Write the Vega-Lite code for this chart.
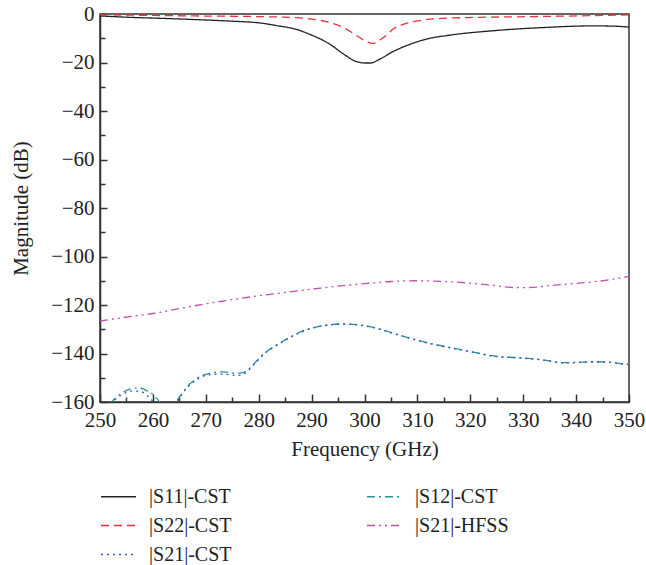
{
  "$schema": "https://vega.github.io/schema/vega-lite/v6.json",
  "width": 529,
  "height": 388,
  "autosize": {"type": "none"},
  "padding": {"left": 100, "top": 14, "right": 17, "bottom": 163},
  "background": "white",
  "config": {
    "font": "Liberation Serif",
    "view": {"stroke": "#333", "strokeWidth": 1.5},
    "axis": {
      "labelFont": "Liberation Serif",
      "titleFont": "Liberation Serif",
      "labelFontSize": 21,
      "titleFontSize": 21,
      "titleFontWeight": "normal",
      "labelColor": "#222",
      "titleColor": "#222",
      "domainColor": "#333",
      "domainWidth": 1.5,
      "tickColor": "#333",
      "tickWidth": 1.5,
      "grid": false
    },
    "legend": {
      "labelFont": "Liberation Serif",
      "labelFontSize": 20,
      "labelColor": "#222"
    }
  },
  "data": {
    "values": [
      {"s": "|S11|-CST", "f": 250, "m": -0.8},
      {"s": "|S11|-CST", "f": 256, "m": -1.4},
      {"s": "|S11|-CST", "f": 261.7, "m": -1.8},
      {"s": "|S11|-CST", "f": 268, "m": -2.3},
      {"s": "|S11|-CST", "f": 274.3, "m": -2.9},
      {"s": "|S11|-CST", "f": 280.6, "m": -3.8},
      {"s": "|S11|-CST", "f": 283.7, "m": -4.9},
      {"s": "|S11|-CST", "f": 286.9, "m": -6.2},
      {"s": "|S11|-CST", "f": 290, "m": -8.7},
      {"s": "|S11|-CST", "f": 293.2, "m": -12.1},
      {"s": "|S11|-CST", "f": 296.3, "m": -16.9},
      {"s": "|S11|-CST", "f": 298.2, "m": -19.4},
      {"s": "|S11|-CST", "f": 300.1, "m": -20.2},
      {"s": "|S11|-CST", "f": 301.2, "m": -20.2},
      {"s": "|S11|-CST", "f": 302.9, "m": -18.6},
      {"s": "|S11|-CST", "f": 305.4, "m": -15.5},
      {"s": "|S11|-CST", "f": 308.6, "m": -12.5},
      {"s": "|S11|-CST", "f": 311.8, "m": -10.3},
      {"s": "|S11|-CST", "f": 316.2, "m": -8.7},
      {"s": "|S11|-CST", "f": 324.3, "m": -6.9},
      {"s": "|S11|-CST", "f": 333.7, "m": -5.6},
      {"s": "|S11|-CST", "f": 343.2, "m": -4.9},
      {"s": "|S11|-CST", "f": 347, "m": -5.0},
      {"s": "|S11|-CST", "f": 350, "m": -5.4},

      {"s": "|S22|-CST", "f": 250, "m": -0.3},
      {"s": "|S22|-CST", "f": 268, "m": -0.8},
      {"s": "|S22|-CST", "f": 280.6, "m": -1.1},
      {"s": "|S22|-CST", "f": 286.9, "m": -1.5},
      {"s": "|S22|-CST", "f": 290, "m": -2.1},
      {"s": "|S22|-CST", "f": 293.2, "m": -3.4},
      {"s": "|S22|-CST", "f": 296.3, "m": -5.9},
      {"s": "|S22|-CST", "f": 298.8, "m": -9.3},
      {"s": "|S22|-CST", "f": 300.4, "m": -11.4},
      {"s": "|S22|-CST", "f": 301.7, "m": -12.1},
      {"s": "|S22|-CST", "f": 302.9, "m": -10.7},
      {"s": "|S22|-CST", "f": 304.2, "m": -8.7},
      {"s": "|S22|-CST", "f": 305.4, "m": -6.2},
      {"s": "|S22|-CST", "f": 307.3, "m": -4.3},
      {"s": "|S22|-CST", "f": 310.5, "m": -2.7},
      {"s": "|S22|-CST", "f": 314.9, "m": -1.8},
      {"s": "|S22|-CST", "f": 321.2, "m": -1.4},
      {"s": "|S22|-CST", "f": 330.7, "m": -1.1},
      {"s": "|S22|-CST", "f": 340.1, "m": -0.8},
      {"s": "|S22|-CST", "f": 350, "m": -0.4},

      {"s": "|S21|-HFSS", "f": 250, "m": -126.6},
      {"s": "|S21|-HFSS", "f": 255, "m": -125.0},
      {"s": "|S21|-HFSS", "f": 260, "m": -123.5},
      {"s": "|S21|-HFSS", "f": 265, "m": -121.5},
      {"s": "|S21|-HFSS", "f": 270, "m": -119.5},
      {"s": "|S21|-HFSS", "f": 275, "m": -117.8},
      {"s": "|S21|-HFSS", "f": 280, "m": -116.2},
      {"s": "|S21|-HFSS", "f": 285, "m": -114.8},
      {"s": "|S21|-HFSS", "f": 290, "m": -113.5},
      {"s": "|S21|-HFSS", "f": 295, "m": -112.2},
      {"s": "|S21|-HFSS", "f": 300, "m": -111.2},
      {"s": "|S21|-HFSS", "f": 305, "m": -110.3},
      {"s": "|S21|-HFSS", "f": 310, "m": -110.0},
      {"s": "|S21|-HFSS", "f": 315, "m": -110.3},
      {"s": "|S21|-HFSS", "f": 320, "m": -111.0},
      {"s": "|S21|-HFSS", "f": 325, "m": -112.1},
      {"s": "|S21|-HFSS", "f": 328.5, "m": -112.8},
      {"s": "|S21|-HFSS", "f": 331, "m": -112.8},
      {"s": "|S21|-HFSS", "f": 335, "m": -112.0},
      {"s": "|S21|-HFSS", "f": 340, "m": -111.1},
      {"s": "|S21|-HFSS", "f": 345, "m": -110.0},
      {"s": "|S21|-HFSS", "f": 350, "m": -108.2},

      {"s": "|S12|-CST", "f": 250, "m": -167},
      {"s": "|S12|-CST", "f": 252.2, "m": -160},
      {"s": "|S12|-CST", "f": 254, "m": -156.5},
      {"s": "|S12|-CST", "f": 256, "m": -154.5},
      {"s": "|S12|-CST", "f": 257.5, "m": -154.2},
      {"s": "|S12|-CST", "f": 259, "m": -155.5},
      {"s": "|S12|-CST", "f": 260.5, "m": -158},
      {"s": "|S12|-CST", "f": 261.5, "m": -161},
      {"s": "|S12|-CST", "f": 262.5, "m": -168},
      {"s": "|S12|-CST", "f": 263.5, "m": -168},
      {"s": "|S12|-CST", "f": 264.5, "m": -160},
      {"s": "|S12|-CST", "f": 265.5, "m": -156.5},
      {"s": "|S12|-CST", "f": 267, "m": -152.5},
      {"s": "|S12|-CST", "f": 268.5, "m": -150},
      {"s": "|S12|-CST", "f": 270.5, "m": -148.3},
      {"s": "|S12|-CST", "f": 273, "m": -147.6},
      {"s": "|S12|-CST", "f": 276, "m": -148.2},
      {"s": "|S12|-CST", "f": 277.5, "m": -147.5},
      {"s": "|S12|-CST", "f": 279, "m": -144.5},
      {"s": "|S12|-CST", "f": 281, "m": -140},
      {"s": "|S12|-CST", "f": 283, "m": -137},
      {"s": "|S12|-CST", "f": 285, "m": -134.4},
      {"s": "|S12|-CST", "f": 288, "m": -131},
      {"s": "|S12|-CST", "f": 291, "m": -129},
      {"s": "|S12|-CST", "f": 294, "m": -128},
      {"s": "|S12|-CST", "f": 296, "m": -127.8},
      {"s": "|S12|-CST", "f": 299, "m": -128.2},
      {"s": "|S12|-CST", "f": 301, "m": -128.9},
      {"s": "|S12|-CST", "f": 303, "m": -130},
      {"s": "|S12|-CST", "f": 306, "m": -132},
      {"s": "|S12|-CST", "f": 310, "m": -134.5},
      {"s": "|S12|-CST", "f": 314, "m": -136.6},
      {"s": "|S12|-CST", "f": 318, "m": -138.3},
      {"s": "|S12|-CST", "f": 321, "m": -139.6},
      {"s": "|S12|-CST", "f": 325, "m": -141.2},
      {"s": "|S12|-CST", "f": 329, "m": -141.7},
      {"s": "|S12|-CST", "f": 333, "m": -142.4},
      {"s": "|S12|-CST", "f": 338, "m": -143.8},
      {"s": "|S12|-CST", "f": 343, "m": -143.4},
      {"s": "|S12|-CST", "f": 346, "m": -143.5},
      {"s": "|S12|-CST", "f": 349, "m": -144.3},
      {"s": "|S12|-CST", "f": 350, "m": -144.5},

      {"s": "|S21|-CST", "f": 250, "m": -167},
      {"s": "|S21|-CST", "f": 252.4, "m": -160},
      {"s": "|S21|-CST", "f": 254, "m": -157.2},
      {"s": "|S21|-CST", "f": 256, "m": -155.5},
      {"s": "|S21|-CST", "f": 257.5, "m": -155.6},
      {"s": "|S21|-CST", "f": 259, "m": -157.5},
      {"s": "|S21|-CST", "f": 260.2, "m": -160.5},
      {"s": "|S21|-CST", "f": 261.5, "m": -167},
      {"s": "|S21|-CST", "f": 263.5, "m": -168},
      {"s": "|S21|-CST", "f": 264.6, "m": -160},
      {"s": "|S21|-CST", "f": 265.5, "m": -156.8},
      {"s": "|S21|-CST", "f": 267, "m": -153},
      {"s": "|S21|-CST", "f": 268.5, "m": -150.5},
      {"s": "|S21|-CST", "f": 270.5, "m": -148.8},
      {"s": "|S21|-CST", "f": 273, "m": -148.5},
      {"s": "|S21|-CST", "f": 276, "m": -149.1},
      {"s": "|S21|-CST", "f": 277.5, "m": -148.0},
      {"s": "|S21|-CST", "f": 279, "m": -144.8},
      {"s": "|S21|-CST", "f": 281, "m": -140.2},
      {"s": "|S21|-CST", "f": 283, "m": -137.2},
      {"s": "|S21|-CST", "f": 285, "m": -134.6},
      {"s": "|S21|-CST", "f": 288, "m": -131.2},
      {"s": "|S21|-CST", "f": 291, "m": -129.1},
      {"s": "|S21|-CST", "f": 294, "m": -128.1},
      {"s": "|S21|-CST", "f": 296, "m": -127.9},
      {"s": "|S21|-CST", "f": 299, "m": -128.3},
      {"s": "|S21|-CST", "f": 301, "m": -129.0},
      {"s": "|S21|-CST", "f": 303, "m": -130.1},
      {"s": "|S21|-CST", "f": 306, "m": -132.1},
      {"s": "|S21|-CST", "f": 310, "m": -134.6},
      {"s": "|S21|-CST", "f": 314, "m": -136.7},
      {"s": "|S21|-CST", "f": 318, "m": -138.4},
      {"s": "|S21|-CST", "f": 321, "m": -139.7},
      {"s": "|S21|-CST", "f": 325, "m": -141.3},
      {"s": "|S21|-CST", "f": 329, "m": -141.8},
      {"s": "|S21|-CST", "f": 333, "m": -142.5},
      {"s": "|S21|-CST", "f": 338, "m": -143.9},
      {"s": "|S21|-CST", "f": 343, "m": -143.5},
      {"s": "|S21|-CST", "f": 346, "m": -143.6},
      {"s": "|S21|-CST", "f": 349, "m": -144.4},
      {"s": "|S21|-CST", "f": 350, "m": -144.6}
    ]
  },
  "mark": {"type": "line", "clip": true, "interpolate": "monotone", "strokeWidth": 1.3},
  "encoding": {
    "x": {
      "field": "f",
      "type": "quantitative",
      "scale": {"domain": [250, 350], "nice": false, "zero": false},
      "axis": {
        "title": "Frequency (GHz)",
        "values": [250,255,260,265,270,275,280,285,290,295,300,305,310,315,320,325,330,335,340,345,350],
        "labelExpr": "datum.value % 10 === 0 ? datum.label : ''",
        "tickSize": {"condition": {"test": "datum.value % 10 === 0", "value": -8}, "value": -5},
        "labelPadding": 15,
        "titlePadding": 8,
        "labelFlush": false
      }
    },
    "y": {
      "field": "m",
      "type": "quantitative",
      "scale": {"domain": [-160, 0], "nice": false, "zero": false},
      "axis": {
        "title": "Magnitude (dB)",
        "values": [-160,-150,-140,-130,-120,-110,-100,-90,-80,-70,-60,-50,-40,-30,-20,-10,0],
        "labelExpr": "datum.value % 20 === 0 ? datum.label : ''",
        "tickSize": {"condition": {"test": "datum.value % 20 === 0", "value": -7}, "value": -5},
        "labelPadding": 13,
        "titlePadding": 19,
        "labelFlush": false
      }
    },
    "color": {
      "field": "s",
      "type": "nominal",
      "scale": {
        "domain": ["|S11|-CST", "|S22|-CST", "|S21|-CST", "|S12|-CST", "|S21|-HFSS"],
        "range": ["#222222", "#e8323c", "#3a56c8", "#2a9494", "#c04fb0"]
      },
      "legend": {
        "title": null,
        "orient": "none",
        "legendX": 0,
        "legendY": 464,
        "columns": 2,
        "columnPadding": 132,
        "rowPadding": -12,
        "symbolType": "stroke",
        "symbolSize": 1225,
        "symbolStrokeWidth": 1.3,
        "labelOffset": 12,
        "padding": 0
      }
    },
    "strokeDash": {
      "field": "s",
      "type": "nominal",
      "scale": {
        "domain": ["|S11|-CST", "|S22|-CST", "|S21|-CST", "|S12|-CST", "|S21|-HFSS"],
        "range": [[1, 0], [8, 5], [2, 4], [8, 4, 2, 4], [8, 4, 2, 4, 2, 4]]
      },
      "legend": null
    }
  }
}
